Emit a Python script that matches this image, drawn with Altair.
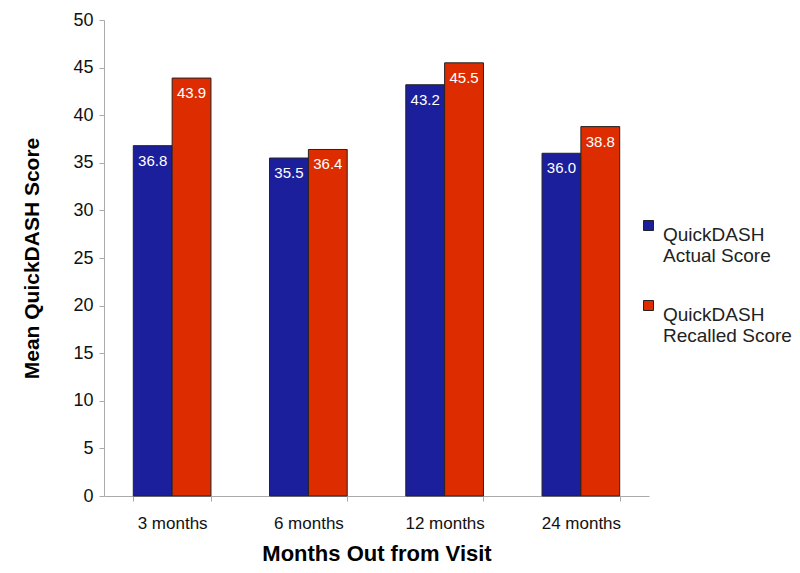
import altair as alt
import pandas as pd

months = ["3 months", "6 months", "12 months", "24 months"]
actual = [36.8, 35.5, 43.2, 36.0]
recalled = [43.9, 36.4, 45.5, 38.8]
series = ["QuickDASH\nActual Score", "QuickDASH\nRecalled Score"]
colors = ["#1c1f9c", "#dc2c00"]

rows = []
for m, a, r in zip(months, actual, recalled):
    rows.append({"month": m, "series": series[0], "value": a, "label": f"{a:.1f}"})
    rows.append({"month": m, "series": series[1], "value": r, "label": f"{r:.1f}"})
df = pd.DataFrame(rows)

font = "Liberation Sans"

x = alt.X("month:N", sort=months, title="Months Out from Visit",
          scale=alt.Scale(paddingInner=0.43, paddingOuter=0.215),
          axis=alt.Axis(labelAngle=0, labelFontSize=17, labelPadding=14,
                        titleFontSize=22, titleFontWeight="bold", titlePadding=12,
                        tickBand="extent", tickSize=5, grid=False))
y = alt.Y("value:Q", title="Mean QuickDASH Score",
          scale=alt.Scale(domain=[0, 50]),
          axis=alt.Axis(values=list(range(0, 51, 5)), labelFontSize=18, labelPadding=6,
                        titleFontSize=21, titleFontWeight="bold", titlePadding=30,
                        grid=False, tickSize=5))
xo = alt.XOffset("series:N", sort=series)

bars = alt.Chart(df).mark_bar(stroke="#222222", strokeWidth=1).encode(
    x=x, y=y, xOffset=xo,
    color=alt.Color("series:N", sort=series,
                    scale=alt.Scale(domain=series, range=colors),
                    legend=alt.Legend(title=None, orient="none", legendX=535, legendY=196,
                                      symbolType="square", symbolSize=100,
                                      symbolStrokeColor="#222222", symbolStrokeWidth=1,
                                      labelFontSize=19, labelFont=font, labelColor="#222222",
                                      labelExpr="split(datum.label, '\\n')",
                                      labelBaseline="top", labelLimit=200,
                                      rowPadding=30, labelOffset=5)),
)

labels = alt.Chart(df).mark_text(color="white", fontSize=15, baseline="top", dy=8,
                                 font=font).encode(
    x=x, y=y, xOffset=xo, text="label:N")

chart = alt.layer(bars, labels).properties(
    width=545, height=476,
    autosize=alt.AutoSizeParams(type="none"),
    padding={"left": 96, "top": 12, "right": 143, "bottom": 69},
).configure(font=font).configure_view(
    stroke="transparent", strokeWidth=0
).configure_axis(
    domainColor="#aaaaaa", tickColor="#aaaaaa", labelColor="#111111",
    titleColor="#000000", labelFont=font, titleFont=font, grid=False,
)

chart.save("out.html", embed_options={"renderer": "svg", "actions": False})
